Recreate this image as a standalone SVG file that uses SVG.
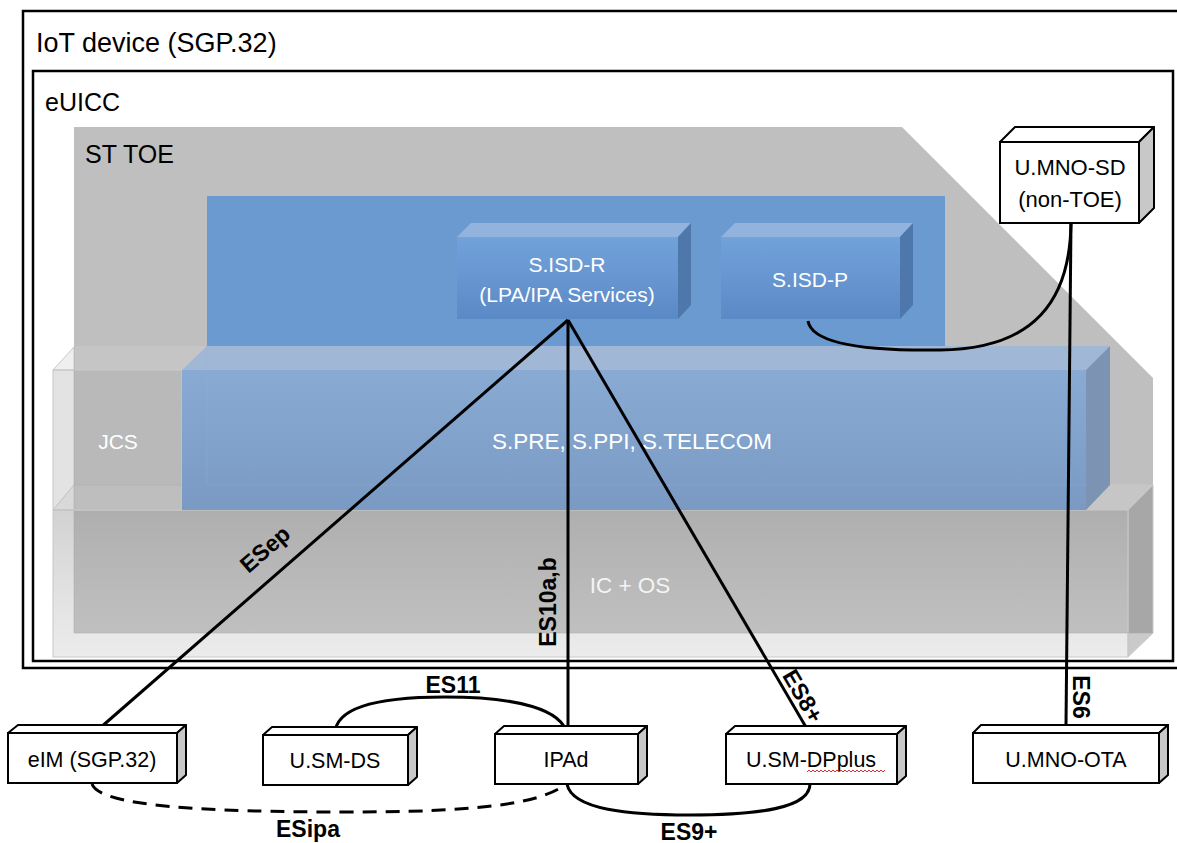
<svg xmlns="http://www.w3.org/2000/svg" width="1177" height="843" viewBox="0 0 1177 843">
<defs>
<linearGradient id="gBlueFront" x1="0" y1="0" x2="0" y2="1"><stop offset="0" stop-color="#88aad3"/><stop offset="1" stop-color="#7a9ac3"/></linearGradient>
<linearGradient id="gSbox" x1="0" y1="0" x2="0" y2="1"><stop offset="0" stop-color="#72a2da"/><stop offset="1" stop-color="#5b89c6"/></linearGradient>
<linearGradient id="gGrayFront" x1="0" y1="0" x2="0" y2="1"><stop offset="0" stop-color="#9a9a9a" stop-opacity="0.45"/><stop offset="1" stop-color="#c8c8c8" stop-opacity="0.35"/></linearGradient>
</defs>
<style>
.frame{fill:none;stroke:#000;stroke-width:2.5}
.t{font-family:"Liberation Sans",Arial,sans-serif}
.w{fill:#fff}
.lbl{font-family:"Liberation Sans",Arial,sans-serif;font-weight:bold;font-size:23px;fill:#000}
.con{fill:none;stroke:#000;stroke-width:3}
.bf{fill:#fff;stroke:#000;stroke-width:2}
.bs{fill:#c8c8c8;stroke:#000;stroke-width:2;stroke-linejoin:round}
.bt{fill:#fff;stroke:#000;stroke-width:2;stroke-linejoin:round}
.edge{fill:none;stroke:#a8a8a8;stroke-width:1;stroke-opacity:0.5}
</style>

<g id="iot-device">
<rect class="frame" x="23" y="11" width="1170" height="657"/>
<text class="t" x="36" y="52" font-size="27" fill="#000">IoT device (SGP.32)</text>
</g>

<g id="euicc">
<rect class="frame" x="33" y="71" width="1140" height="590"/>
<text class="t" x="45" y="111" font-size="25" fill="#000">eUICC</text>
</g>

<g id="st-toe">
<polygon points="74,127 902,127 1153,378 1153,633 74,633" fill="#bfbfbf"/>
<text class="t" x="85" y="163" font-size="25" fill="#000">ST TOE</text>
</g>

<g id="isd-container">
<rect x="207" y="196" width="738" height="150" fill="#6a9ad0"/>
</g>

<g id="s-isd-r">
<polygon points="457,237 471,223 691,223 678,237" fill="#93b3df"/>
<polygon points="678,237 691,223 691,305 678,319" fill="#4e78ab"/>
<rect x="457" y="237" width="221" height="82" fill="url(#gSbox)"/>
<text class="t w" x="567" y="272" font-size="21" text-anchor="middle">S.ISD-R</text>
<text class="t w" x="567" y="302" font-size="21" text-anchor="middle">(LPA/IPA Services)</text>
</g>

<g id="s-isd-p">
<polygon points="721,237 735,223 913,223 900,237" fill="#93b3df"/>
<polygon points="900,237 913,223 913,305 900,319" fill="#4e78ab"/>
<rect x="721" y="237" width="179" height="82" fill="url(#gSbox)"/>
<text class="t w" x="810" y="287" font-size="21" text-anchor="middle">S.ISD-P</text>
</g>

<g id="ic-os">
<polygon points="53,510 74,485 1153,485 1128,510" fill="#d4d4d4" fill-opacity="0.35" stroke="#c8c8c8" stroke-width="1"/>
<polygon points="1128,510 1153,485 1153,633 1128,657" fill="#8a8a8a" fill-opacity="0.45" stroke="#c8c8c8" stroke-width="1"/>
<rect x="53" y="510" width="1075" height="147" fill="url(#gGrayFront)" stroke="#c8c8c8" stroke-width="1"/>
<path class="edge" d="M74,485 V633 H1153"/>
<text class="t" x="630" y="593" font-size="22.5" text-anchor="middle" fill="#f4f4f4">IC + OS</text>
</g>

<g id="jcs">
<polygon points="53,370 74,347 207,347 182,370" fill="#d0d0d0" fill-opacity="0.35" stroke="#c8c8c8" stroke-width="1"/>
<rect x="53" y="370" width="129" height="140" fill="#b0b0b0" fill-opacity="0.35" stroke="#c8c8c8" stroke-width="1"/>
<path class="edge" d="M74,347 V485 H182"/>
<text class="t w" x="118" y="449" font-size="21" text-anchor="middle">JCS</text>
</g>

<g id="s-pre">
<polygon points="182,370 207,346 1110,346 1086,370" fill="#a1b7d6"/>
<polygon points="1086,370 1110,346 1110,485 1086,510" fill="#7c93b3"/>
<rect x="182" y="370" width="904" height="140" fill="url(#gBlueFront)"/>
<path d="M207,346 V485 H1086" fill="none" stroke="#9db3d3" stroke-width="1" stroke-opacity="0.3"/>
<text class="t w" x="632" y="449" font-size="22.5" text-anchor="middle">S.PRE, S.PPI, S.TELECOM</text>
</g>

<g id="u-mno-sd">
<polygon class="bt" points="1000,142 1015,127 1154,127 1139,142"/>
<polygon class="bs" points="1139,142 1154,127 1154,208 1139,223"/>
<rect class="bf" x="1000" y="142" width="139" height="81"/>
<text class="t" x="1070" y="175" font-size="22" text-anchor="middle" fill="#000">U.MNO-SD</text>
<text class="t" x="1070" y="207" font-size="22" text-anchor="middle" fill="#000">(non-TOE)</text>
</g>

<g id="connectors">
<line class="con" x1="568" y1="320" x2="100" y2="728"/>
<line class="con" x1="568" y1="320" x2="568" y2="734"/>
<line class="con" x1="568" y1="320" x2="810" y2="734"/>
<path class="con" d="M808,321 C812,345 870,351 940,350 C1035,349 1070,300 1071,223"/>
<line class="con" x1="1071" y1="223" x2="1066" y2="725"/>
<path class="con" d="M335,734 C335,705 385,697 445,697 C520,697 562,710 567,734"/>
<path class="con" d="M567,784 C572,810 630,815 690,815 C760,815 810,808 810,784"/>
<path class="con" d="M92,784 C100,806 200,812 350,812 C470,812 540,805 566,784" stroke-dasharray="14,9"/>
<text class="lbl" transform="translate(265,549) rotate(-41)" x="0" y="8" text-anchor="middle">ESep</text>
<text class="lbl" transform="translate(548,602) rotate(-90)" x="0" y="8" text-anchor="middle">ES10a,b</text>
<text class="lbl" transform="translate(803,696) rotate(59.7)" x="0" y="8" text-anchor="middle">ES8+</text>
<text class="lbl" transform="translate(1081,697) rotate(90)" x="0" y="8" text-anchor="middle">ES6</text>
<text class="lbl" x="453" y="693" text-anchor="middle">ES11</text>
<text class="lbl" x="308" y="837" text-anchor="middle">ESipa</text>
<text class="lbl" x="689" y="840" text-anchor="middle">ES9+</text>
</g>

<g id="eim">
<polygon class="bt" points="8,733 18,725 186,725 177,733"/>
<polygon class="bs" points="177,733 186,725 186,775 177,783"/>
<rect class="bf" x="8" y="733" width="169" height="50"/>
<text class="t" x="92" y="767" font-size="21.5" text-anchor="middle" fill="#000">eIM (SGP.32)</text>
</g>

<g id="u-sm-ds">
<polygon class="bt" points="263,735 272,727 417,727 408,735"/>
<polygon class="bs" points="408,735 417,727 417,777 408,785"/>
<rect class="bf" x="263" y="735" width="145" height="50"/>
<text class="t" x="335" y="768" font-size="21.5" text-anchor="middle" fill="#000">U.SM-DS</text>
</g>

<g id="ipad">
<polygon class="bt" points="495,734 504,726 647,726 638,734"/>
<polygon class="bs" points="638,734 647,726 647,776 638,784"/>
<rect class="bf" x="495" y="734" width="143" height="50"/>
<text class="t" x="566" y="767" font-size="21.5" text-anchor="middle" fill="#000">IPAd</text>
</g>

<g id="u-sm-dpplus">
<polygon class="bt" points="726,734 735,726 906,726 897,734"/>
<polygon class="bs" points="897,734 906,726 906,776 897,784"/>
<rect class="bf" x="726" y="734" width="171" height="50"/>
<text class="t" x="811" y="767" font-size="21.5" text-anchor="middle" fill="#000">U.SM-DPplus</text>
<polyline points="807,772 809,770 811,772 813,770 815,772 817,770 819,772 821,770 823,772 825,770 827,772 829,770 831,772 833,770 835,772 837,770 839,772 841,770 843,772 845,770 847,772 849,770 851,772 853,770 855,772 857,770 859,772 861,770 863,772 865,770 867,772 869,770 871,772 873,770 875,772 877,770 879,772 881,770 883,772 885,770" fill="none" stroke="#e03030" stroke-width="1"/>
</g>

<g id="u-mno-ota">
<polygon class="bt" points="973,733 981,725 1168,725 1159,733"/>
<polygon class="bs" points="1159,733 1168,725 1168,775 1159,783"/>
<rect class="bf" x="973" y="733" width="186" height="50"/>
<text class="t" x="1066" y="767" font-size="21.5" text-anchor="middle" fill="#000">U.MNO-OTA</text>
</g>
</svg>
